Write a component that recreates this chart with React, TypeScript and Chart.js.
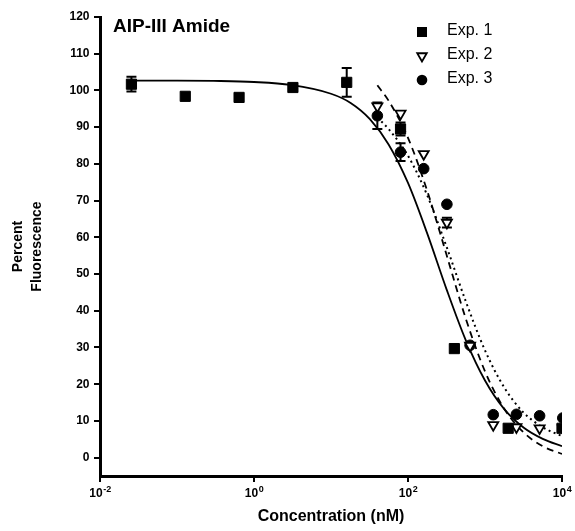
import React, { useEffect, useRef } from 'react';
import { Chart, registerables } from 'chart.js';

Chart.register(...registerables);

// ---- Data ----
const chartTitle = 'AIP-III Amide';
const seriesLabels = ['Exp. 1', 'Exp. 2', 'Exp. 3'];

// Exp. 1 (filled squares)
const exp1Conc = [0.0256, 0.128, 0.64, 3.2, 16, 80, 400, 2000, 10000];
const exp1Val = [101.7, 98.4, 98.1, 100.8, 102.2, 89.5, 29.7, 8.0, 8.0];
const exp1Err = [2.0, 0, 0, 0, 3.9, 1.8, 0, 0, 0];

// Exp. 2 (open down-triangles)
const exp2Conc = [40, 80, 160, 320, 640, 1280, 2560, 5120, 10240];
const exp2Val = [95.7, 93.7, 82.7, 64.0, 30.5, 8.9, 8.3, 8.0, 8.0];
const exp2Err = [0, 0, 0, 1.3, 0, 0, 0, 0, 0];

// Exp. 3 (filled circles)
const exp3Conc = [40, 80, 160, 320, 640, 1280, 2560, 5120, 10240];
const exp3Val = [93.1, 83.2, 78.7, 69.0, 30.6, 11.7, 11.8, 11.4, 10.8];
const exp3Err = [3.6, 2.4, 0, 0, 0, 0, 0, 0, 0];

// Fitted curves
const fit1Conc = [0.0256, 0.1, 0.3, 1, 3, 10, 18, 32, 56, 100, 178, 316, 562, 1000, 1778, 3162, 5623, 10000];
const fit1Val = [102.7, 102.7, 102.6, 102.3, 101.5, 99.1, 96.6, 92.2, 85.3, 74.8, 61.0, 45.9, 32.0, 21.0, 13.2, 8.2, 5.1, 3.1];

const fit2Conc = [40, 56, 100, 178, 316, 562, 1000, 1778, 3162, 5623, 10000];
const fit2Val = [101.4, 97.2, 87.1, 72.6, 55.3, 37.9, 23.5, 13.3, 6.9, 3.1, 1.0];

const fit3Conc = [40, 56, 100, 178, 316, 562, 1000, 1778, 3162, 5623, 10000];
const fit3Val = [92.6, 89.5, 82.2, 71.4, 57.5, 42.6, 29.2, 19.1, 12.3, 8.25, 5.9];

const xTickValues = [0.01, 1, 100, 10000];
const xTickBase = '10';
const xTickExponents = ['-2', '0', '2', '4'];
const yTickValues = [0, 10, 20, 30, 40, 50, 60, 70, 80, 90, 100, 110, 120];

const xTitle = 'Concentration (nM)';
const yTitle = ['Percent', 'Fluorescence'];

const FONT = "'Liberation Sans', Arial, Helvetica, sans-serif";

const toXY = (xs: number[], ys: number[]) => xs.map((x, i) => ({ x, y: ys[i] }));

const errorBarPlugin = {
  id: 'errorBars',
  beforeDatasetsDraw(chart: any) {
    const { ctx } = chart;
    const xs = chart.scales.x;
    const ys = chart.scales.y;
    chart.data.datasets.forEach((ds: any, i: number) => {
      if (!ds.errors || !chart.isDatasetVisible(i)) return;
      ctx.save();
      ctx.strokeStyle = '#000';
      ctx.lineWidth = 2;
      ds.data.forEach((p: any, j: number) => {
        const e = ds.errors[j];
        if (!e) return;
        const px = xs.getPixelForValue(p.x);
        const top = ys.getPixelForValue(p.y + e);
        const bot = ys.getPixelForValue(p.y - e);
        ctx.beginPath();
        ctx.moveTo(px, top);
        ctx.lineTo(px, bot);
        ctx.moveTo(px - 5, top);
        ctx.lineTo(px + 5, top);
        ctx.moveTo(px - 5, bot);
        ctx.lineTo(px + 5, bot);
        ctx.stroke();
      });
      ctx.restore();
    });
  },
};

const overlayPlugin = {
  id: 'overlay',
  afterDraw(chart: any) {
    const { ctx, chartArea } = chart;
    ctx.save();
    // title inside plot
    ctx.fillStyle = '#000';
    ctx.font = `bold 19px ${FONT}`;
    ctx.textAlign = 'left';
    ctx.textBaseline = 'alphabetic';
    ctx.fillText(chartTitle, chartArea.left + 13, chartArea.top + 15);

    // x tick labels with superscript exponents
    const xs = chart.scales.x;
    xTickValues.forEach((v, i) => {
      const px = xs.getPixelForValue(v);
      ctx.font = `bold 12px ${FONT}`;
      const wb = ctx.measureText(xTickBase).width;
      ctx.font = `bold 9px ${FONT}`;
      const we = ctx.measureText(xTickExponents[i]).width;
      const start = px - (wb + we) / 2;
      const base = chartArea.bottom + 21;
      ctx.textAlign = 'left';
      ctx.textBaseline = 'alphabetic';
      ctx.font = `bold 12px ${FONT}`;
      ctx.fillText(xTickBase, start, base);
      ctx.font = `bold 9px ${FONT}`;
      ctx.fillText(xTickExponents[i], start + wb + 0.5, base - 5);
    });

    // legend
    const lx = chartArea.right - 140;
    const ly0 = chartArea.top + 15;
    seriesLabels.forEach((label, i) => {
      const y = ly0 + i * 24;
      ctx.fillStyle = '#000';
      ctx.strokeStyle = '#000';
      ctx.beginPath();
      if (i === 0) {
        ctx.rect(lx - 5, y - 5, 10, 10);
        ctx.fill();
      } else if (i === 1) {
        const r = 5.5;
        ctx.moveTo(lx, y + r);
        ctx.lineTo(lx - r * Math.sin(Math.PI / 3), y - r / 2);
        ctx.lineTo(lx + r * Math.sin(Math.PI / 3), y - r / 2);
        ctx.closePath();
        ctx.fillStyle = '#fff';
        ctx.fill();
        ctx.lineWidth = 1.8;
        ctx.stroke();
      } else {
        ctx.arc(lx, y, 5.3, 0, Math.PI * 2);
        ctx.fill();
      }
      ctx.fillStyle = '#000';
      ctx.font = `16px ${FONT}`;
      ctx.textAlign = 'left';
      ctx.textBaseline = 'middle';
      ctx.fillText(label, lx + 25, y - 1);
    });
    ctx.restore();
  },
};

export default function App() {
  const ref = useRef<HTMLCanvasElement>(null);

  useEffect(() => {
    const canvas = ref.current;
    if (!canvas) return;
    Chart.defaults.font.family = FONT;
    Chart.defaults.color = '#000';

    const chart = new Chart(canvas, {
      type: 'scatter',
      data: {
        datasets: [
          {
            label: seriesLabels[0],
            data: toXY(exp1Conc, exp1Val),
            errors: exp1Err,
            pointStyle: 'rect',
            pointRadius: 7.2,
            backgroundColor: '#000',
            borderColor: '#000',
            borderWidth: 1,
            order: 0,
          } as any,
          {
            label: seriesLabels[1],
            data: toXY(exp2Conc, exp2Val),
            errors: exp2Err,
            pointStyle: 'triangle',
            rotation: 180,
            pointRadius: 5.8,
            backgroundColor: '#fff',
            borderColor: '#000',
            borderWidth: 1.8,
            order: 0,
          } as any,
          {
            label: seriesLabels[2],
            data: toXY(exp3Conc, exp3Val),
            errors: exp3Err,
            pointStyle: 'circle',
            pointRadius: 5.3,
            backgroundColor: '#000',
            borderColor: '#000',
            borderWidth: 1,
            order: 0,
          } as any,
          {
            label: 'fit1',
            data: toXY(fit1Conc, fit1Val),
            showLine: true,
            pointRadius: 0,
            borderColor: '#000',
            borderWidth: 1.8,
            cubicInterpolationMode: 'monotone',
            order: 1,
          } as any,
          {
            label: 'fit2',
            data: toXY(fit2Conc, fit2Val),
            showLine: true,
            pointRadius: 0,
            borderColor: '#000',
            borderWidth: 1.8,
            borderDash: [7, 5],
            cubicInterpolationMode: 'monotone',
            order: 1,
          } as any,
          {
            label: 'fit3',
            data: toXY(fit3Conc, fit3Val),
            showLine: true,
            pointRadius: 0,
            borderColor: '#000',
            borderWidth: 2,
            borderDash: [2, 3.5],
            cubicInterpolationMode: 'monotone',
            order: 1,
          } as any,
        ],
      },
      options: {
        animation: false,
        responsive: false,
        devicePixelRatio: 1,
        layout: { padding: { top: 17, right: 13, left: 0, bottom: 0 } },
        plugins: {
          legend: { display: false },
          tooltip: { enabled: false },
        },
        scales: {
          x: {
            type: 'logarithmic',
            min: 0.01,
            max: 10000,
            afterBuildTicks: (s: any) => {
              s.ticks = xTickValues.map((v) => ({ value: v }));
            },
            afterFit: (s: any) => {
              s.height = 55;
            },
            ticks: {
              autoSkip: false,
              maxRotation: 0,
              padding: 3,
              color: '#000',
              font: { size: 12, weight: 'bold' },
              callback: () => '',
            },
            grid: {
              display: true,
              drawOnChartArea: false,
              drawTicks: true,
              tickLength: 6,
              lineWidth: 2,
              color: '#000',
            },
            border: { display: true, width: 3, color: '#000' },
            title: {
              display: true,
              text: xTitle,
              color: '#000',
              font: { size: 16, weight: 'bold' },
              padding: { top: 0, bottom: 4.4 },
            },
          },
          y: {
            type: 'linear',
            min: -5,
            max: 120,
            afterBuildTicks: (s: any) => {
              s.ticks = yTickValues.map((v) => ({ value: v }));
            },
            afterFit: (s: any) => {
              s.width = 100;
            },
            ticks: {
              autoSkip: false,
              padding: 4.5,
              color: '#000',
              font: { size: 12, weight: 'bold' },
            },
            grid: {
              display: true,
              drawOnChartArea: false,
              drawTicks: true,
              tickLength: 6,
              lineWidth: 2,
              color: '#000',
            },
            border: { display: true, width: 3, color: '#000' },
            title: {
              display: true,
              text: yTitle,
              color: '#000',
              font: { size: 14, weight: 'bold', lineHeight: 1.32 },
              padding: { top: 9.25, bottom: 0 },
            },
          },
        },
      } as any,
      plugins: [errorBarPlugin, overlayPlugin],
    });

    return () => chart.destroy();
  }, []);

  return (
    <canvas
      ref={ref}
      width={575}
      height={531}
      style={{ position: 'fixed', left: 0, top: 0, width: 575, height: 531, display: 'block' }}
    />
  );
}
